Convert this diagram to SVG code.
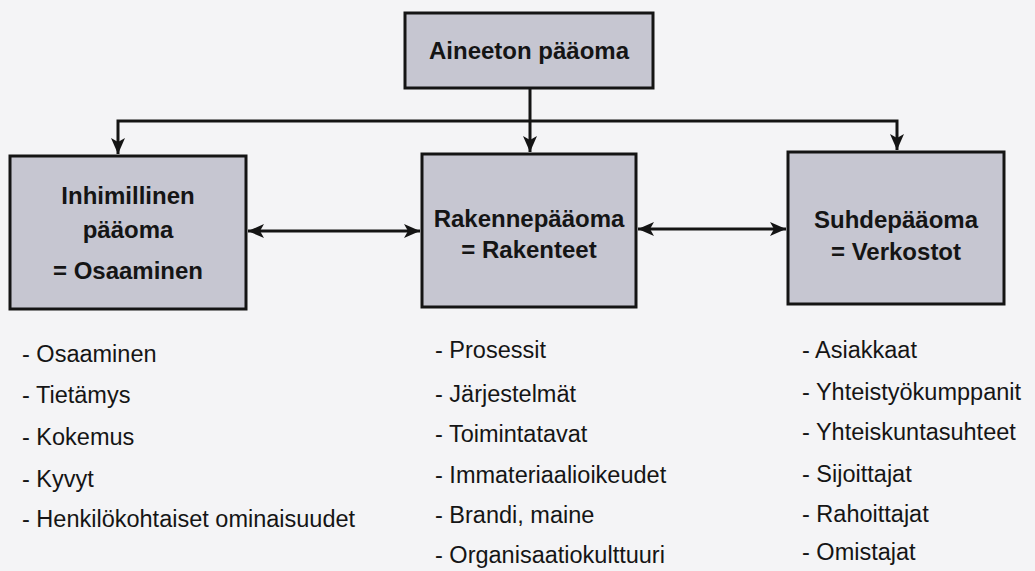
<svg xmlns="http://www.w3.org/2000/svg" width="1035" height="571" viewBox="0 0 1035 571">
<style>
.box{fill:#c6c6d1;stroke:#141414;stroke-width:3}
.bt{font-family:"Liberation Sans",Arial,sans-serif;font-weight:bold;font-size:24px;fill:#151515;text-anchor:middle}
.lt{font-family:"Liberation Sans",Arial,sans-serif;font-size:23.5px;fill:#151515}
.con{fill:none;stroke:#141414;stroke-width:3}
</style>
<defs>
<marker id="ah" viewBox="0 0 16 14" refX="16" refY="7" markerWidth="16" markerHeight="14" markerUnits="userSpaceOnUse" orient="auto-start-reverse">
<path d="M0,0 L16,7 L0,14 L4,7 Z" fill="#141414"/>
</marker>
</defs>
<rect width="1035" height="571" fill="#f4f4f6"/>
<g id="connectors">
<path class="con" d="M530,88 V152" marker-end="url(#ah)"/>
<path class="con" d="M118,154 V121 H897 V150" marker-start="url(#ah)" marker-end="url(#ah)"/>
<path class="con" d="M248,231 H420" marker-start="url(#ah)" marker-end="url(#ah)"/>
<path class="con" d="M638,229 H786" marker-start="url(#ah)" marker-end="url(#ah)"/>
</g>
<g id="node-top">
<rect class="box" x="405" y="13" width="248" height="75"/>
<text class="bt" x="529" y="59">Aineeton pääoma</text>
</g>
<g id="node-left">
<rect class="box" x="10" y="156" width="236" height="153"/>
<text class="bt" x="128" y="204">Inhimillinen</text>
<text class="bt" x="128" y="238">pääoma</text>
<text class="bt" x="128" y="279">= Osaaminen</text>
</g>
<g id="node-middle">
<rect class="box" x="422" y="154" width="214" height="153"/>
<text class="bt" x="529" y="227">Rakennepääoma</text>
<text class="bt" x="529" y="258">= Rakenteet</text>
</g>
<g id="node-right">
<rect class="box" x="788" y="152" width="216" height="152"/>
<text class="bt" x="896" y="228">Suhdepääoma</text>
<text class="bt" x="896" y="260">= Verkostot</text>
</g>
<g id="list-left" class="lt">
<text x="22" y="362">- Osaaminen</text>
<text x="22" y="403">- Tietämys</text>
<text x="22" y="445">- Kokemus</text>
<text x="22" y="487">- Kyvyt</text>
<text x="22" y="527">- Henkilökohtaiset ominaisuudet</text>
</g>
<g id="list-middle" class="lt">
<text x="435" y="358">- Prosessit</text>
<text x="435" y="402">- Järjestelmät</text>
<text x="435" y="442">- Toimintatavat</text>
<text x="435" y="483">- Immateriaalioikeudet</text>
<text x="435" y="523">- Brandi, maine</text>
<text x="435" y="563">- Organisaatiokulttuuri</text>
</g>
<g id="list-right" class="lt">
<text x="802" y="358">- Asiakkaat</text>
<text x="802" y="400">- Yhteistyökumppanit</text>
<text x="802" y="440">- Yhteiskuntasuhteet</text>
<text x="802" y="482">- Sijoittajat</text>
<text x="802" y="522">- Rahoittajat</text>
<text x="802" y="560">- Omistajat</text>
</g>
</svg>
